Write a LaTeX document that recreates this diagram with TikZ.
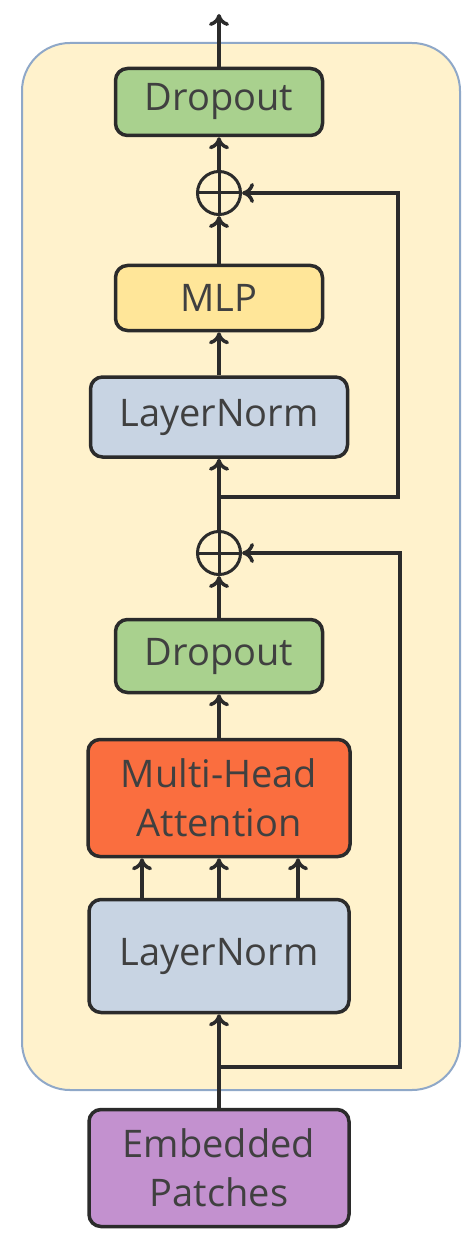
\documentclass[tikz,border=0pt]{standalone}
\usepackage{fontspec}
\setmainfont{Open Sans}
\usetikzlibrary{shapes, arrows, arrows.meta}

\definecolor{blockbg}{HTML}{FFF2CC}
\definecolor{blockline}{HTML}{8FA8C8}
\definecolor{dropgreen}{HTML}{A9D18E}
\definecolor{mlpyellow}{HTML}{FFE699}
\definecolor{normblue}{HTML}{C8D4E3}
\definecolor{attnred}{HTML}{FA6E3F}
\definecolor{embpurple}{HTML}{C391CF}
\definecolor{ink}{HTML}{2B2B2B}

\begin{document}
\begin{tikzpicture}[x=1pt, y=-1pt,
        box/.style = {draw=ink, line width=3.5pt, rounded corners=12pt, text=ink!90, align=center,
                      font=\fontsize{38}{49}\selectfont},
        add/.style = {draw=ink, circle, line width=3pt, minimum size=43pt, inner sep=0pt,
                      path picture={\draw[ink, line width=3pt]
                          (path picture bounding box.north) -- (path picture bounding box.south)
                          (path picture bounding box.west) -- (path picture bounding box.east);}},
        link/.style = {draw=ink, line width=3.5pt, -{To[length=12pt, width=20pt, line width=3.5pt]}},
        wire/.style = {draw=ink, line width=3.5pt}]
                \useasboundingbox (0,0) rectangle (474,1246);
                \node[draw=blockline, fill=blockbg, line width=2pt, rounded corners=48pt,
                      minimum width=438pt, minimum height=1047pt] at (241,566.5) (block) {};

                \node[box, fill=dropgreen, minimum width=207pt, minimum height=67pt] at (219,102) (drop1) {Dropout};
                \node[add] at (219,193) (add1) {};
                \node[box, fill=mlpyellow, minimum width=207pt, minimum height=65pt] at (219,298) (mlp) {MLP};
                \node[box, fill=normblue, minimum width=257pt, minimum height=80pt] at (219,417) (norm1) {LayerNorm};
                \node[add] at (219,553) (add2) {};
                \node[box, fill=dropgreen, minimum width=207pt, minimum height=73pt] at (219,656) (drop2) {Dropout};
                \node[box, fill=attnred, minimum width=262pt, minimum height=117pt] at (219,798) (mha) {Multi-Head\\Attention};
                \node[box, fill=normblue, minimum width=260pt, minimum height=113pt] at (219,956) (norm2) {LayerNorm};
                \node[box, fill=embpurple, minimum width=260pt, minimum height=117pt] at (219,1168) (embed) {Embedded\\Patches};

                \coordinate (out) at (219,14);
                \coordinate (branch1) at (219,497);
                \coordinate (turn1) at (398,497);
                \coordinate (branch2) at (219,1067);
                \coordinate (turn2) at (400,553);

                \draw[link] (drop1.north) -- (out);
                \draw[link] (add1.north) -- (drop1.south);
                \draw[link] (mlp.north) -- (add1.south);
                \draw[link] (norm1.north) -- (mlp.south);
                \draw[link] (add2.north) -- (norm1.south);
                \draw[link] (drop2.north) -- (add2.south);
                \draw[link] (mha.north) -- (drop2.south);
                \foreach \dx in {-77, 0, 79}
                    \draw[link] ([xshift=\dx pt]norm2.north) -- ([xshift=\dx pt]mha.south);
                \draw[link] (embed.north) -- (norm2.south);

                \draw[link] (branch1) -- (turn1) |- (add1.east);
                \draw[link] (branch2) -| (turn2) -- (add2.east);
            \end{tikzpicture}
\end{document}
